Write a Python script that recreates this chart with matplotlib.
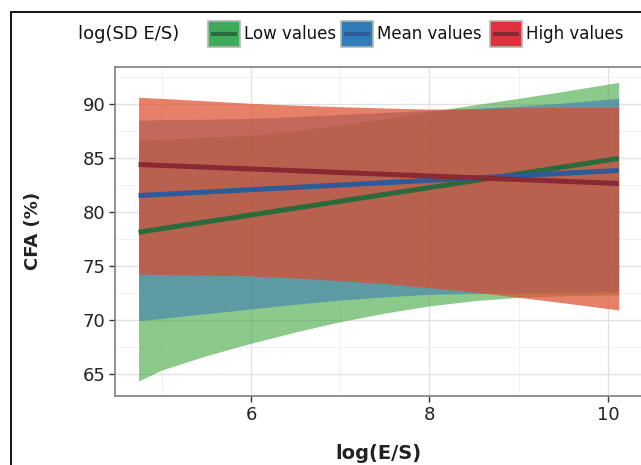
import matplotlib
matplotlib.use("Agg")
import matplotlib.pyplot as plt
from matplotlib.patches import Rectangle
from matplotlib.lines import Line2D
from matplotlib.ticker import MultipleLocator

plt.rcParams['font.family'] = ['DejaVu Sans']

# --- data ---
groups = ["Low values", "Mean values", "High values"]
band_x = [4.74, 5.0, 5.5, 6.0, 6.5, 7.0, 7.5, 8.0, 8.5, 9.0, 9.5, 10.12]
low_upper = [86.69, 86.75, 86.93, 87.15, 87.55, 88.08, 88.68, 89.32, 89.95, 90.56, 91.20, 92.04]
low_lower = [64.35, 65.37, 66.70, 67.85, 68.90, 69.85, 70.65, 71.31, 71.80, 72.11, 72.25, 72.33]
mean_upper = [88.54, 88.57, 88.62, 88.70, 88.86, 89.07, 89.25, 89.45, 89.62, 89.84, 90.12, 90.56]
mean_lower = [69.94, 70.16, 70.60, 71.03, 71.47, 71.86, 72.15, 72.39, 72.47, 72.50, 72.56, 72.64]
high_upper = [90.65, 90.55, 90.32, 90.09, 89.92, 89.78, 89.66, 89.56, 89.58, 89.69, 89.72, 89.72]
high_lower = [74.27, 74.22, 74.16, 74.09, 73.90, 73.65, 73.38, 73.00, 72.60, 72.11, 71.60, 70.94]

line_x = [4.74, 10.12]
low_fit = [78.14, 84.98]
mean_fit = [81.54, 83.87]
high_fit = [84.42, 82.66]

x_ticks = [6, 8, 10]
y_ticks = [65, 70, 75, 80, 85, 90]

# styles
fill_cols = [(44/255, 160/255, 44/255), (64/255, 123/255, 180/255), (222/255, 74/255, 42/255)]
fill_alpha = [0.55, 0.6, 0.7]
line_cols = ['#2b6b3b', '#2d5a98', '#8a2833']
key_cols = ['#3faa5a', '#2f7eb8', '#e0313f']

W, H = 641, 465
fig = plt.figure(figsize=(W / 100, H / 100), dpi=100, facecolor='white')
ax = fig.add_axes([115 / W, 1 - 396 / H, (645 - 115) / W, (396 - 67) / H])

bands = [(low_lower, low_upper), (mean_lower, mean_upper), (high_lower, high_upper)]
fits = [low_fit, mean_fit, high_fit]
for i in range(3):
    lo, hi = bands[i]
    ax.fill_between(band_x, lo, hi, color=fill_cols[i], alpha=fill_alpha[i], lw=0, zorder=2)
for i in range(3):
    ax.plot(line_x, fits[i], color=line_cols[i], lw=3.6, solid_capstyle='butt', zorder=3)

ax.set_xlim(4.476, 10.415)
ax.set_ylim(62.96, 93.46)
ax.set_xticks(x_ticks)
ax.set_yticks(y_ticks)
ax.xaxis.set_minor_locator(MultipleLocator(1))
ax.yaxis.set_minor_locator(MultipleLocator(2.5))
ax.grid(which='major', color='#e2e2e2', lw=1.0)
ax.grid(which='minor', color='#efefef', lw=0.6)
ax.set_axisbelow(True)
ax.tick_params(which='major', length=4.5, width=1, color='#333333', labelcolor='#222222',
               labelsize=13, pad=2.5)
ax.tick_params(which='minor', length=0)
for s in ax.spines.values():
    s.set_color('#7f7f7f')
    s.set_linewidth(1.2)

fig.text(378 / W, 1 - 453 / H, 'log(E/S)', fontsize=14, fontweight='bold', color='#222222',
         ha='center', va='center')
fig.text(33 / W, 1 - 231 / H, 'CFA (%)', fontsize=13, fontweight='bold', color='#222222',
         ha='center', va='center', rotation=90)

# legend across the top, keys placed by hand (pixel positions)
fig.text(78 / W, 1 - 34 / H, 'log(SD E/S)', fontsize=13, color='#111111', ha='left', va='center')
key_left = [208, 341, 490]
key_w, key_top, key_bot = 32, 21, 47
for i in range(3):
    x0 = key_left[i]
    fig.patches.append(Rectangle((x0 / W, 1 - key_bot / H), key_w / W, (key_bot - key_top) / H,
                                 transform=fig.transFigure, facecolor=key_cols[i],
                                 edgecolor='#b5b5b5', lw=1.2))
    ymid = 1 - (key_top + key_bot) / 2 / H
    fig.lines.append(Line2D([(x0 + 3) / W, (x0 + key_w - 3) / W], [ymid, ymid],
                            transform=fig.transFigure, color=line_cols[i], lw=3,
                            solid_capstyle='butt'))
    fig.text((x0 + key_w + 4) / W, 1 - 34 / H, groups[i], fontsize=12, color='#111111',
             ha='left', va='center')

# outer frame (cut off at right and bottom)
fig.patches.append(Rectangle((11 / W, -0.1), 1.2, 1.1 - 12 / H, transform=fig.transFigure,
                             fill=False, edgecolor='black', lw=1.3))

fig.savefig('out.png', dpi=100, facecolor='white')
